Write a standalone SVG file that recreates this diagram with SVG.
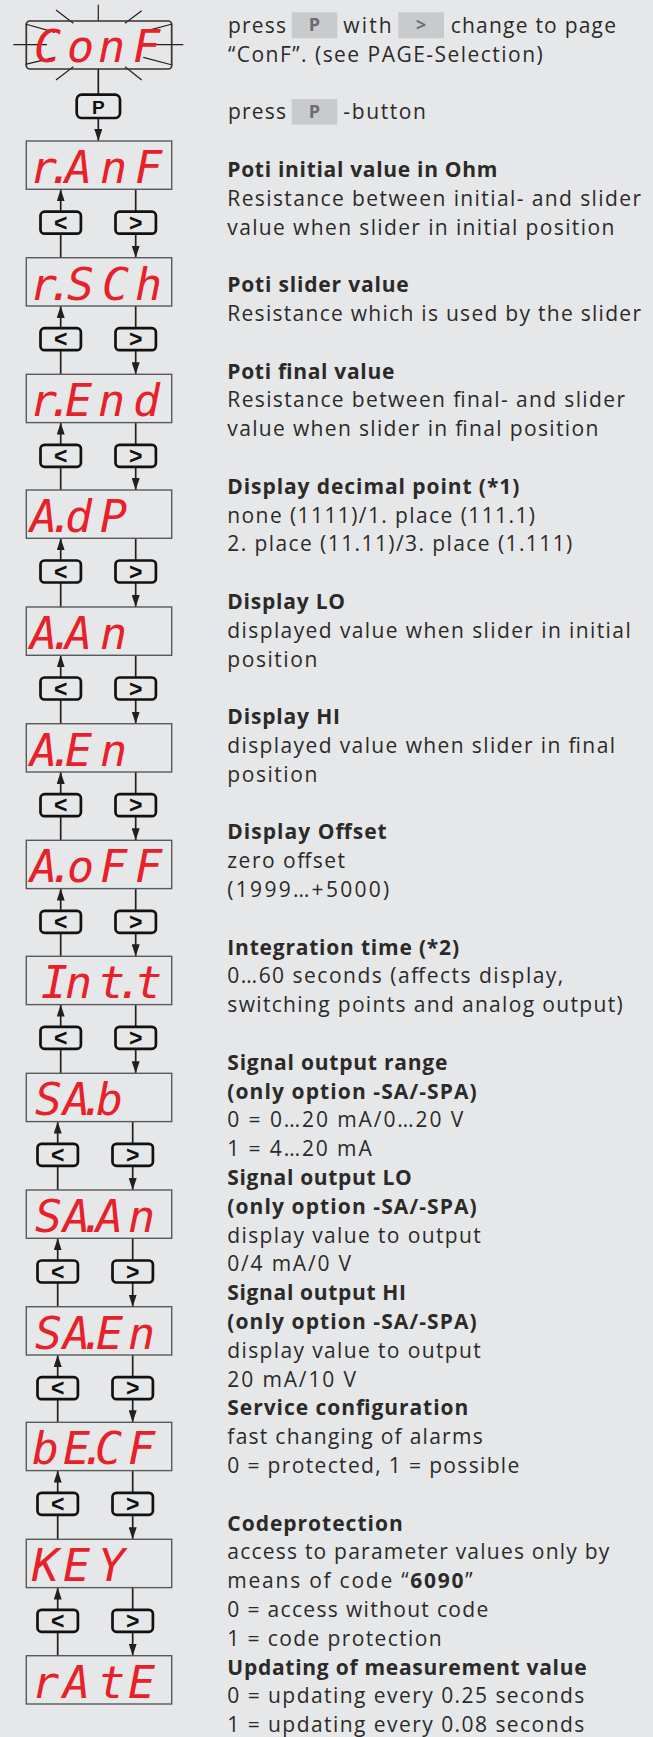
<svg xmlns="http://www.w3.org/2000/svg" width="653" height="1737" viewBox="0 0 653 1737">
<defs>
<marker id="ah" viewBox="0 0 12 8" refX="12" refY="4" markerWidth="12" markerHeight="8" markerUnits="userSpaceOnUse" orient="auto">
<path d="M0,0 L12,4 L0,8 z" fill="#231f20"/>
</marker>
</defs>
<style>
.bg{fill:#e6e7e9}
.disp{fill:none;stroke:#58595b;stroke-width:1.4}
.seg{font-family:"DejaVu Sans Mono",monospace;font-style:italic;font-size:45px;fill:#e8202a}
.btn{fill:#e6e7e9;stroke:#111;stroke-width:2.7}
.bt{font-family:"Liberation Sans",Arial,sans-serif;font-size:23px;font-weight:700;fill:#111;text-anchor:middle}
.con{stroke:#231f20;stroke-width:1.7;fill:none;marker-end:url(#ah)}
.ray{stroke:#231f20;stroke-width:1.2}
.t{font-family:"Open Sans","Noto Sans",sans-serif;font-size:21px;fill:#2b2a29}
.b{font-weight:700}
.key{fill:#c9cacc}
.kt{font-family:"Open Sans","Noto Sans",sans-serif;font-size:18px;font-weight:700;fill:#6d6e71;text-anchor:middle}
</style>
<rect class="bg" x="0" y="0" width="653" height="1737"/>

<g id="connectors">
<line class="con" x1="98.3" y1="69" x2="98.3" y2="141"/>
<line class="con" x1="60.7" y1="257.7" x2="60.7" y2="189.3"/>
<line class="con" x1="135.7" y1="189.3" x2="135.7" y2="257.7"/>
<line class="con" x1="60.7" y1="374.3" x2="60.7" y2="306"/>
<line class="con" x1="135.7" y1="306" x2="135.7" y2="374.3"/>
<line class="con" x1="60.7" y1="490" x2="60.7" y2="422.6"/>
<line class="con" x1="135.7" y1="422.6" x2="135.7" y2="490"/>
<line class="con" x1="60.7" y1="607" x2="60.7" y2="538.3"/>
<line class="con" x1="135.7" y1="538.3" x2="135.7" y2="607"/>
<line class="con" x1="60.7" y1="723.7" x2="60.7" y2="655.3"/>
<line class="con" x1="135.7" y1="655.3" x2="135.7" y2="723.7"/>
<line class="con" x1="60.7" y1="840.3" x2="60.7" y2="772"/>
<line class="con" x1="135.7" y1="772" x2="135.7" y2="840.3"/>
<line class="con" x1="60.7" y1="956.3" x2="60.7" y2="888.6"/>
<line class="con" x1="135.7" y1="888.6" x2="135.7" y2="956.3"/>
<line class="con" x1="60.7" y1="1073.3" x2="60.7" y2="1004.6"/>
<line class="con" x1="135.7" y1="1004.6" x2="135.7" y2="1073.3"/>
<line class="con" x1="57.7" y1="1190" x2="57.7" y2="1121.6"/>
<line class="con" x1="132.7" y1="1121.6" x2="132.7" y2="1190"/>
<line class="con" x1="57.7" y1="1306.7" x2="57.7" y2="1238.3"/>
<line class="con" x1="132.7" y1="1238.3" x2="132.7" y2="1306.7"/>
<line class="con" x1="57.7" y1="1422.3" x2="57.7" y2="1355"/>
<line class="con" x1="132.7" y1="1355" x2="132.7" y2="1422.3"/>
<line class="con" x1="57.7" y1="1539.3" x2="57.7" y2="1470.6"/>
<line class="con" x1="132.7" y1="1470.6" x2="132.7" y2="1539.3"/>
<line class="con" x1="57.7" y1="1655.7" x2="57.7" y2="1587.6"/>
<line class="con" x1="132.7" y1="1587.6" x2="132.7" y2="1655.7"/>
</g>

<g id="buttons">
<g id="btn-p"><rect class="btn" x="76.7" y="94.7" width="43.3" height="23.3" rx="5"/><text x="98.3" y="113.5" text-anchor="middle" style="font-family:'Liberation Sans',Arial,sans-serif;font-size:19px;font-weight:700;fill:#111">P</text></g>
<g id="btn-1"><rect class="btn" x="40.5" y="211.7" width="40.4" height="22" rx="4"/><text class="bt" x="60.7" y="230.8">&lt;</text><rect class="btn" x="115.5" y="211.7" width="40.4" height="22" rx="4"/><text class="bt" x="135.7" y="230.8">&gt;</text></g>
<g id="btn-2"><rect class="btn" x="40.5" y="328.2" width="40.4" height="22" rx="4"/><text class="bt" x="60.7" y="347.3">&lt;</text><rect class="btn" x="115.5" y="328.2" width="40.4" height="22" rx="4"/><text class="bt" x="135.7" y="347.3">&gt;</text></g>
<g id="btn-3"><rect class="btn" x="40.5" y="444.8" width="40.4" height="22" rx="4"/><text class="bt" x="60.7" y="463.9">&lt;</text><rect class="btn" x="115.5" y="444.8" width="40.4" height="22" rx="4"/><text class="bt" x="135.7" y="463.9">&gt;</text></g>
<g id="btn-4"><rect class="btn" x="40.5" y="560.5" width="40.4" height="22" rx="4"/><text class="bt" x="60.7" y="579.6">&lt;</text><rect class="btn" x="115.5" y="560.5" width="40.4" height="22" rx="4"/><text class="bt" x="135.7" y="579.6">&gt;</text></g>
<g id="btn-5"><rect class="btn" x="40.5" y="677.5" width="40.4" height="22" rx="4"/><text class="bt" x="60.7" y="696.6">&lt;</text><rect class="btn" x="115.5" y="677.5" width="40.4" height="22" rx="4"/><text class="bt" x="135.7" y="696.6">&gt;</text></g>
<g id="btn-6"><rect class="btn" x="40.5" y="794.2" width="40.4" height="22" rx="4"/><text class="bt" x="60.7" y="813.3">&lt;</text><rect class="btn" x="115.5" y="794.2" width="40.4" height="22" rx="4"/><text class="bt" x="135.7" y="813.3">&gt;</text></g>
<g id="btn-7"><rect class="btn" x="40.5" y="910.8" width="40.4" height="22" rx="4"/><text class="bt" x="60.7" y="929.9">&lt;</text><rect class="btn" x="115.5" y="910.8" width="40.4" height="22" rx="4"/><text class="bt" x="135.7" y="929.9">&gt;</text></g>
<g id="btn-8"><rect class="btn" x="40.5" y="1026.8" width="40.4" height="22" rx="4"/><text class="bt" x="60.7" y="1045.9">&lt;</text><rect class="btn" x="115.5" y="1026.8" width="40.4" height="22" rx="4"/><text class="bt" x="135.7" y="1045.9">&gt;</text></g>
<g id="btn-9"><rect class="btn" x="37.5" y="1143.8" width="40.4" height="22" rx="4"/><text class="bt" x="57.7" y="1162.9">&lt;</text><rect class="btn" x="112.5" y="1143.8" width="40.4" height="22" rx="4"/><text class="bt" x="132.7" y="1162.9">&gt;</text></g>
<g id="btn-10"><rect class="btn" x="37.5" y="1260.5" width="40.4" height="22" rx="4"/><text class="bt" x="57.7" y="1279.6">&lt;</text><rect class="btn" x="112.5" y="1260.5" width="40.4" height="22" rx="4"/><text class="bt" x="132.7" y="1279.6">&gt;</text></g>
<g id="btn-11"><rect class="btn" x="37.5" y="1377.2" width="40.4" height="22" rx="4"/><text class="bt" x="57.7" y="1396.3">&lt;</text><rect class="btn" x="112.5" y="1377.2" width="40.4" height="22" rx="4"/><text class="bt" x="132.7" y="1396.3">&gt;</text></g>
<g id="btn-12"><rect class="btn" x="37.5" y="1492.8" width="40.4" height="22" rx="4"/><text class="bt" x="57.7" y="1511.9">&lt;</text><rect class="btn" x="112.5" y="1492.8" width="40.4" height="22" rx="4"/><text class="bt" x="132.7" y="1511.9">&gt;</text></g>
<g id="btn-13"><rect class="btn" x="37.5" y="1609.8" width="40.4" height="22" rx="4"/><text class="bt" x="57.7" y="1628.9">&lt;</text><rect class="btn" x="112.5" y="1609.8" width="40.4" height="22" rx="4"/><text class="bt" x="132.7" y="1628.9">&gt;</text></g>
</g>

<g id="conf">
<line class="ray" x1="98.3" y1="4.7" x2="98.3" y2="21"/>
<line class="ray" x1="56" y1="10" x2="73.3" y2="23.3"/>
<line class="ray" x1="125" y1="23.3" x2="141.7" y2="10.7"/>
<line class="ray" x1="13.3" y1="44.7" x2="47" y2="44.7"/>
<line class="ray" x1="150" y1="44.7" x2="183.3" y2="44.7"/>
<line class="ray" x1="25.3" y1="24" x2="55" y2="32.3"/>
<line class="ray" x1="25.3" y1="64.3" x2="55" y2="57.3"/>
<line class="ray" x1="143.3" y1="31.7" x2="172.3" y2="24"/>
<line class="ray" x1="143.3" y1="57.3" x2="172.3" y2="65"/>
<line class="ray" x1="56" y1="80" x2="73.3" y2="66.7"/>
<line class="ray" x1="125" y1="66.7" x2="141.7" y2="80"/>
<rect x="26.3" y="21" width="145.4" height="48" rx="3.5" fill="none" stroke="#333" stroke-width="1.7"/>
<text class="seg" x="34 67 98 133" y="62">ConF</text>
</g>

<g id="ranf"><rect class="disp" x="26.3" y="141" width="145.4" height="48.3"/><text class="seg" x="30 47 65 100 135" y="183">r.AnF</text></g>
<g id="rsch"><rect class="disp" x="26.3" y="257.7" width="145.4" height="48.3"/><text class="seg" x="30 47 67 102 135" y="299.7">r.SCh</text></g>
<g id="rend"><rect class="disp" x="26.3" y="374.3" width="145.4" height="48.3"/><text class="seg" x="30 47 65 98 133" y="416.3">r.End</text></g>
<g id="adp"><rect class="disp" x="26.3" y="490" width="145.4" height="48.3"/><text class="seg" x="30 48 65 100" y="532">A.dP</text></g>
<g id="aan"><rect class="disp" x="26.3" y="607" width="145.4" height="48.3"/><text class="seg" x="30 48 65 100" y="649">A.An</text></g>
<g id="aen"><rect class="disp" x="26.3" y="723.7" width="145.4" height="48.3"/><text class="seg" x="30 48 65 100" y="765.7">A.En</text></g>
<g id="aoff"><rect class="disp" x="26.3" y="840.3" width="145.4" height="48.3"/><text class="seg" x="30 48 67 100 135" y="882.3">A.oFF</text></g>
<g id="intt"><rect class="disp" x="26.3" y="956.3" width="145.4" height="48.3"/><text class="seg" x="41 65 98 116 135" y="998.3">Int.t</text></g>
<g id="sab"><rect class="disp" x="26.3" y="1073.3" width="145.4" height="48.3"/><text class="seg" x="35 63 79 96" y="1115.3">SA.b</text></g>
<g id="saan"><rect class="disp" x="26.3" y="1190" width="145.4" height="48.3"/><text class="seg" x="35 63 79 96 128" y="1232">SA.An</text></g>
<g id="saen"><rect class="disp" x="26.3" y="1306.7" width="145.4" height="48.3"/><text class="seg" x="35 63 79 96 128" y="1348.7">SA.En</text></g>
<g id="becf"><rect class="disp" x="26.3" y="1422.3" width="145.4" height="48.3"/><text class="seg" x="32 63 80 95 128" y="1464.3">bE.CF</text></g>
<g id="key"><rect class="disp" x="26.3" y="1539.3" width="145.4" height="48.3"/><text class="seg" x="32 63 98" y="1581.3">KEY</text></g>
<g id="rate"><rect class="disp" x="26.3" y="1655.7" width="145.4" height="48.3"/><text class="seg" x="32 63 98 128" y="1697.7">rAtE</text></g>

<g id="desc-intro">
<text class="t" x="228" y="33" textLength="58" lengthAdjust="spacing">press</text>
<rect class="key" x="291.7" y="12.3" width="45.6" height="26"/><text class="kt" x="314.5" y="31">P</text>
<text class="t" x="343.3" y="33" textLength="48.4" lengthAdjust="spacing">with</text>
<rect class="key" x="398.3" y="12.3" width="45.7" height="26"/><text class="kt" x="421.2" y="31">&gt;</text>
<text class="t" x="450.7" y="33" textLength="165.3" lengthAdjust="spacing">change to page</text>
<text class="t" x="228" y="61.8" textLength="314.7" lengthAdjust="spacing">“ConF”. (see PAGE-Selection)</text>
<text class="t" x="228" y="119.4" textLength="58" lengthAdjust="spacing">press</text>
<rect class="key" x="291.7" y="99" width="45.6" height="25.7"/><text class="kt" x="314.5" y="117.6">P</text>
<text class="t" x="343.3" y="119.4" textLength="82.7" lengthAdjust="spacing">-button</text>
</g>

<g id="desc-ranf">
<text class="t b" x="227.3" y="177" textLength="270" lengthAdjust="spacing">Poti initial value in Ohm</text>
<text class="t" x="227.3" y="205.8" textLength="413.7" lengthAdjust="spacing">Resistance between initial- and slider</text>
<text class="t" x="227.3" y="234.6" textLength="387" lengthAdjust="spacing">value when slider in initial position</text>
</g>
<g id="desc-rsch">
<text class="t b" x="227.3" y="292.2" textLength="181.4" lengthAdjust="spacing">Poti slider value</text>
<text class="t" x="227.3" y="321" textLength="413.7" lengthAdjust="spacing">Resistance which is used by the slider</text>
</g>
<g id="desc-rend">
<text class="t b" x="227.3" y="378.6" textLength="167" lengthAdjust="spacing">Poti final value</text>
<text class="t" x="227.3" y="407.4" textLength="397.7" lengthAdjust="spacing">Resistance between final- and slider</text>
<text class="t" x="227.3" y="436.2" textLength="371" lengthAdjust="spacing">value when slider in final position</text>
</g>
<g id="desc-adp">
<text class="t b" x="227.3" y="493.8" textLength="292" lengthAdjust="spacing">Display decimal point (*1)</text>
<text class="t" x="227.3" y="522.6" textLength="307.7" lengthAdjust="spacing">none (1111)/1. place (111.1)</text>
<text class="t" x="227.3" y="551.4" textLength="345" lengthAdjust="spacing">2. place (11.11)/3. place (1.111)</text>
</g>
<g id="desc-aan">
<text class="t b" x="227.3" y="609" textLength="117.7" lengthAdjust="spacing">Display LO</text>
<text class="t" x="227.3" y="637.8" textLength="403.4" lengthAdjust="spacing">displayed value when slider in initial</text>
<text class="t" x="227.3" y="666.6" textLength="90" lengthAdjust="spacing">position</text>
</g>
<g id="desc-aen">
<text class="t b" x="227.3" y="724.2" textLength="112.7" lengthAdjust="spacing">Display HI</text>
<text class="t" x="227.3" y="753" textLength="387.7" lengthAdjust="spacing">displayed value when slider in final</text>
<text class="t" x="227.3" y="781.8" textLength="90" lengthAdjust="spacing">position</text>
</g>
<g id="desc-aoff">
<text class="t b" x="227.3" y="839.4" textLength="159.4" lengthAdjust="spacing">Display Offset</text>
<text class="t" x="227.3" y="868.2" textLength="117.7" lengthAdjust="spacing">zero offset</text>
<text class="t" x="227.3" y="897" textLength="162" lengthAdjust="spacing">(1999…+5000)</text>
</g>
<g id="desc-intt">
<text class="t b" x="227.3" y="954.6" textLength="231.7" lengthAdjust="spacing">Integration time (*2)</text>
<text class="t" x="227.3" y="983.4" textLength="336" lengthAdjust="spacing">0…60 seconds (affects display,</text>
<text class="t" x="227.3" y="1012.2" textLength="395.4" lengthAdjust="spacing">switching points and analog output)</text>
</g>
<g id="desc-sab">
<text class="t b" x="227.3" y="1069.8" textLength="220" lengthAdjust="spacing">Signal output range</text>
<text class="t b" x="227.3" y="1098.6" textLength="249.4" lengthAdjust="spacing">(only option -SA/-SPA)</text>
<text class="t" x="227.3" y="1127.4" textLength="236" lengthAdjust="spacing">0 = 0…20 mA/0…20 V</text>
<text class="t" x="227.3" y="1156.2" textLength="144.4" lengthAdjust="spacing">1 = 4…20 mA</text>
</g>
<g id="desc-saan">
<text class="t b" x="227.3" y="1185" textLength="184.4" lengthAdjust="spacing">Signal output LO</text>
<text class="t b" x="227.3" y="1213.8" textLength="249.4" lengthAdjust="spacing">(only option -SA/-SPA)</text>
<text class="t" x="227.3" y="1242.6" textLength="253.4" lengthAdjust="spacing">display value to output</text>
<text class="t" x="227.3" y="1271.4" textLength="123.7" lengthAdjust="spacing">0/4 mA/0 V</text>
</g>
<g id="desc-saen">
<text class="t b" x="227.3" y="1300.2" textLength="178.7" lengthAdjust="spacing">Signal output HI</text>
<text class="t b" x="227.3" y="1329" textLength="249.4" lengthAdjust="spacing">(only option -SA/-SPA)</text>
<text class="t" x="227.3" y="1357.8" textLength="253.4" lengthAdjust="spacing">display value to output</text>
<text class="t" x="227.3" y="1386.6" textLength="128.7" lengthAdjust="spacing">20 mA/10 V</text>
</g>
<g id="desc-becf">
<text class="t b" x="227.3" y="1415.4" textLength="241" lengthAdjust="spacing">Service configuration</text>
<text class="t" x="227.3" y="1444.2" textLength="255.4" lengthAdjust="spacing">fast changing of alarms</text>
<text class="t" x="227.3" y="1473" textLength="292" lengthAdjust="spacing">0 = protected, 1 = possible</text>
</g>
<g id="desc-key">
<text class="t b" x="227.3" y="1530.6" textLength="175.4" lengthAdjust="spacing">Codeprotection</text>
<text class="t" x="227.3" y="1559.4" textLength="382" lengthAdjust="spacing">access to parameter values only by</text>
<text class="t" x="227.3" y="1588.2" textLength="245.4" lengthAdjust="spacing">means of code “<tspan class="b">6090</tspan>”</text>
<text class="t" x="227.3" y="1617" textLength="261" lengthAdjust="spacing">0 = access without code</text>
<text class="t" x="227.3" y="1645.8" textLength="214.4" lengthAdjust="spacing">1 = code protection</text>
</g>
<g id="desc-rate">
<text class="t b" x="227.3" y="1674.6" textLength="359.4" lengthAdjust="spacing">Updating of measurement value</text>
<text class="t" x="227.3" y="1703.4" textLength="357" lengthAdjust="spacing">0 = updating every 0.25 seconds</text>
<text class="t" x="227.3" y="1732.2" textLength="357" lengthAdjust="spacing">1 = updating every 0.08 seconds</text>
</g>
</svg>
